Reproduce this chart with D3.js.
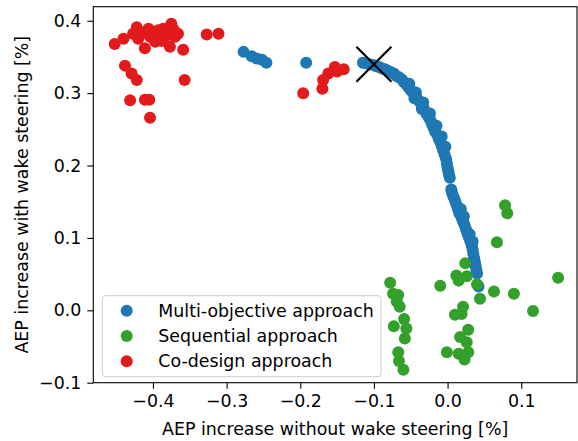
<!DOCTYPE html>
<html>
<head>
<meta charset="utf-8">
<script src="https://cdn.jsdelivr.net/npm/d3@7"></script>
<style>
  body { margin:0; background:#fff; }
  svg { font-family:"DejaVu Sans", sans-serif; }
</style>
</head>
<body>
<div id="chart"></div>
<script>
// multi-objective approach (blue)
var multiX = [-0.277,-0.266,-0.259,-0.252,-0.246,-0.192,
  -0.115,-0.110,-0.106,-0.101,-0.097,-0.093,-0.089,-0.085,-0.081,-0.077,-0.073,-0.070,-0.066,-0.062,
  -0.059,-0.056,-0.053,-0.050,-0.047,-0.045,-0.044,-0.041,-0.038,-0.035,-0.035,-0.032,-0.029,-0.026,
  -0.023,-0.021,-0.019,-0.017,-0.014,-0.012,-0.010,-0.008,-0.006,-0.004,-0.002,-0.001,0.000,0.001,
  0.002,0.003,0.005,0.006,0.008,0.010,0.012,0.014,0.016,0.019,0.021,0.023,0.025,0.027,0.029,0.031,
  0.033,0.034,0.035,0.036,0.037,0.038,0.039,0.040,0.042,
  -0.052,-0.043,-0.033,-0.024,-0.015,-0.008,-0.003,0.018,0.022,0.030,0.034];
var multiY = [0.357,0.351,0.348,0.346,0.342,0.342,
  0.342,0.341,0.340,0.339,0.337,0.336,0.334,0.333,0.331,0.329,0.327,0.324,0.322,0.319,
  0.315,0.312,0.308,0.304,0.301,0.293,0.297,0.292,0.288,0.283,0.278,0.278,0.272,0.267,
  0.262,0.257,0.252,0.247,0.242,0.237,0.233,0.227,0.221,0.215,0.209,0.203,0.197,0.192,
  0.187,0.183,0.167,0.162,0.157,0.152,0.146,0.140,0.134,0.128,0.123,0.118,0.112,0.106,0.101,0.095,
  0.089,0.084,0.078,0.072,0.067,0.062,0.056,0.051,0.033,
  0.313,0.301,0.287,0.272,0.255,0.240,0.226,0.140,0.130,0.105,0.095];

// sequential approach (green)
var seqX = [0.078,0.081,0.067,0.150,0.024,0.012,0.026,0.015,-0.010,0.040,0.063,0.090,0.044,0.116,
  0.021,0.010,0.019,0.028,0.017,0.026,-0.001,0.015,0.028,0.023,
  -0.078,-0.074,-0.067,-0.069,-0.065,-0.059,-0.056,-0.073,-0.058,-0.067,-0.066,-0.060];
var seqY = [0.145,0.134,0.094,0.045,0.065,0.048,0.047,0.041,0.034,0.036,0.026,0.023,0.016,-0.001,
  0.005,-0.006,-0.005,-0.027,-0.037,-0.044,-0.058,-0.060,-0.058,-0.068,
  0.038,0.023,0.021,0.012,0.005,-0.012,-0.025,-0.022,-0.039,-0.058,-0.070,-0.082];

// co-design approach (red)
var coX = [-0.452,-0.440,-0.422,-0.427,-0.420,-0.406,-0.411,-0.404,-0.393,-0.386,-0.375,-0.381,
  -0.370,-0.366,-0.377,-0.359,-0.397,-0.327,-0.311,-0.438,-0.429,-0.422,-0.357,-0.431,-0.411,
  -0.405,-0.404,-0.196,-0.170,-0.169,-0.162,-0.153,-0.150,-0.141,
  -0.415,-0.398,-0.388,-0.372];
var coY = [0.368,0.375,0.391,0.382,0.375,0.389,0.362,0.378,0.387,0.389,0.396,0.380,
  0.378,0.382,0.364,0.360,0.371,0.381,0.382,0.338,0.327,0.318,0.318,0.290,0.291,
  0.291,0.266,0.300,0.306,0.318,0.327,0.336,0.330,0.333,
  0.383,0.380,0.372,0.388];

var refPoint = [-0.1, 0.34];

var xTicks = [-0.4,-0.3,-0.2,-0.1,0.0,0.1];
var yTicks = [-0.1,0.0,0.1,0.2,0.3,0.4];

var seriesNames = ["Multi-objective approach","Sequential approach","Co-design approach"];
var seriesColors = ["#1f77b4","#33a02c","#e31a1c"];

var W=578, H=441;
var mLeft=93.3, mRight=577, mTop=6.7, mBottom=382.7;
var fs="17.4px";

var x = d3.scaleLinear().domain([-0.481,0.1757]).range([mLeft,mRight]);
var y = d3.scaleLinear().domain([-0.1,0.4194]).range([mBottom,mTop]);

var svg = d3.select("#chart").append("svg")
  .attr("width",W).attr("height",H);

var series = [
  {x:multiX, y:multiY},
  {x:seqX, y:seqY},
  {x:coX, y:coY}
];

series.forEach(function(s,i){
  svg.append("g").selectAll("circle")
    .data(s.x)
    .enter().append("circle")
      .attr("cx",function(d){ return x(d); })
      .attr("cy",function(d,j){ return y(s.y[j]); })
      .attr("r",6)
      .attr("fill",seriesColors[i]);
});

// reference point marker
var rx = x(refPoint[0]), ry = y(refPoint[1]);
svg.append("path")
  .attr("d","M"+(rx-17.5)+","+(ry-17.5)+"L"+(rx+17.5)+","+(ry+17.5)+
            "M"+(rx-17.5)+","+(ry+17.5)+"L"+(rx+17.5)+","+(ry-17.5))
  .attr("stroke","#000").attr("stroke-width",2.2).attr("fill","none");

// axes
var fmt = function(d){ return d3.format(".1f")(d).replace("-","\u2212"); };
var xAxis = svg.append("g")
  .attr("transform","translate(0,"+mBottom+")")
  .call(d3.axisBottom(x).tickValues(xTicks).tickSize(6).tickPadding(6).tickFormat(fmt));
var yAxis = svg.append("g")
  .attr("transform","translate("+mLeft+",0)")
  .call(d3.axisLeft(y).tickValues(yTicks).tickSize(6).tickPadding(6).tickFormat(fmt));

[xAxis,yAxis].forEach(function(a){
  a.select(".domain").remove();
  a.selectAll("text").attr("font-size",fs).attr("fill","#000")
    .attr("font-family","DejaVu Sans, sans-serif");
  a.selectAll("line").attr("stroke","#000").attr("stroke-width",1.1);
});

// frame
svg.append("rect")
  .attr("x",mLeft).attr("y",mTop)
  .attr("width",mRight-mLeft).attr("height",mBottom-mTop)
  .attr("fill","none").attr("stroke","#000").attr("stroke-width",1.1);

// axis labels
svg.append("text")
  .attr("x",(mLeft+mRight)/2).attr("y",435)
  .attr("text-anchor","middle").attr("font-size",fs)
  .text("AEP increase without wake steering [%]");
svg.append("text")
  .attr("transform","translate(28,"+((mTop+mBottom)/2)+") rotate(-90)")
  .attr("text-anchor","middle").attr("font-size",fs)
  .text("AEP increase with wake steering [%]");

// legend
var legend = svg.append("g");
legend.append("rect")
  .attr("x",102.3).attr("y",295.7)
  .attr("width",278.7).attr("height",81)
  .attr("rx",3).attr("ry",3)
  .attr("fill","#fff").attr("fill-opacity",0.8)
  .attr("stroke","#cccccc").attr("stroke-width",1);

var rowY = [310.7,335.9,361.3];
seriesNames.forEach(function(n,i){
  legend.append("circle")
    .attr("cx",126.7).attr("cy",rowY[i]).attr("r",6)
    .attr("fill",seriesColors[i]);
  legend.append("text")
    .attr("x",158.3).attr("y",rowY[i]+6)
    .attr("font-size",fs)
    .text(n);
});
</script>
</body>
</html>
